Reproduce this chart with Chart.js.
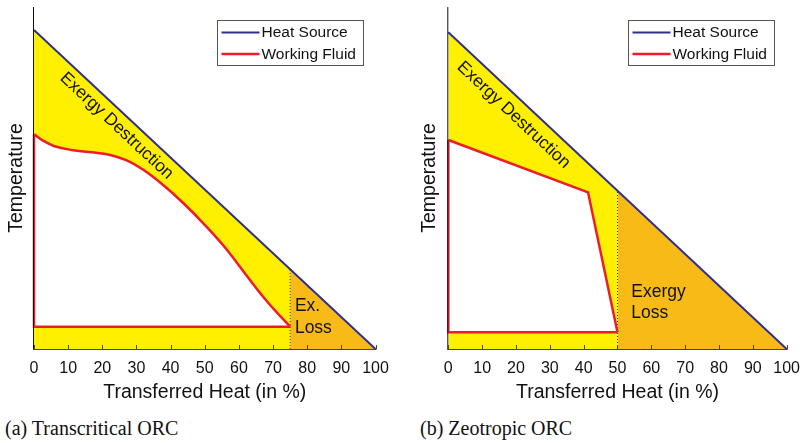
<!DOCTYPE html>
<html lang="en">
<head>
<meta charset="UTF-8">
<title>Heat Transfer Diagrams</title>
<script src="https://cdn.jsdelivr.net/npm/chart.js@4.4.0/dist/chart.umd.min.js"></script>
<style>
  body { margin: 0; background: #fff; width: 810px; height: 443px; position: relative; overflow: hidden; }
  .panel { position: absolute; top: 0; width: 405px; height: 410px; }
  .caption { position: absolute; top: 418px; font-family: 'Liberation Serif', 'Times New Roman', serif; font-size: 20px; line-height: 20px; color: #111; white-space: nowrap; }
</style>
</head>
<body>
<div class="panel" style="left:0"><canvas id="chartA"></canvas></div>
<div class="panel" style="left:405px"><canvas id="chartB"></canvas></div>
<div class="caption" style="left:5px">(a) Transcritical ORC</div>
<div class="caption" style="left:420px">(b) Zeotropic ORC</div>
<script>
// (a) transcritical: heat source line, split at the pinch where the fluid line ends
const heatAX = [0, 75, 100];
const heatAY = [93.3, 23.3, 0];
// working fluid upper curve, from top of the vertical jump down to the condensing level
const fluidAX = [0, 2.5, 6, 11, 17, 22, 27, 32, 38, 44, 50, 56, 62, 68, 75];
const fluidAY = [62.8, 61.0, 59.3, 58.2, 57.5, 56.8, 55.2, 52.4, 47.8, 42.4, 36.3, 29.6, 21.8, 14.2, 6.5];

// (b) zeotropic
const heatBX = [0, 50, 100];
const heatBY = [92.6, 46.3, 0];
const fluidBX = [0, 41.3, 50];
const fluidBY = [61.1, 45.8, 4.9];

const xTicks = [0, 10, 20, 30, 40, 50, 60, 70, 80, 90, 100];

const BLUE = '#2E3192';
const RED = '#EE1C25';
const YELLOW = '#FFF000';
const ORANGE = '#F8BA16';
const FONT = "'Liberation Sans', Arial, sans-serif";

const decor = {
  id: 'decor',
  afterDatasetsDraw(chart, args, o) {
    const { ctx, chartArea: a, scales: { x, y } } = chart;
    const heat = chart.data.datasets[0].data;
    ctx.save();

    // axes + inward tick marks
    ctx.strokeStyle = '#111';
    ctx.lineWidth = 1;
    ctx.beginPath();
    ctx.moveTo(a.left - 0.5, a.top);
    ctx.lineTo(a.left - 0.5, a.bottom + 0.5);
    ctx.stroke();
    ctx.strokeStyle = '#444';
    ctx.beginPath();
    ctx.moveTo(a.left - 1, a.bottom + 0.5);
    ctx.lineTo(a.right + 1, a.bottom + 0.5);
    x.ticks.forEach(t => {
      const px = Math.round(x.getPixelForValue(t.value)) + 0.5;
      ctx.moveTo(px, a.bottom);
      ctx.lineTo(px, a.bottom - 4);
    });
    ctx.stroke();

    // region labels
    ctx.fillStyle = '#111';
    ctx.font = '17.5px ' + FONT;
    const p0x = x.getPixelForValue(heat[0].x), p0y = y.getPixelForValue(heat[0].y);
    const p1x = x.getPixelForValue(heat[heat.length - 1].x), p1y = y.getPixelForValue(heat[heat.length - 1].y);
    const ang = Math.atan2(p1y - p0y, p1x - p0x);
    ctx.save();
    ctx.translate(x.getPixelForValue(o.destruction[0]), y.getPixelForValue(o.destruction[1]));
    ctx.rotate(ang);
    ctx.textAlign = 'center';
    ctx.textBaseline = 'middle';
    ctx.fillText('Exergy Destruction', 0, 0);
    ctx.restore();

    ctx.textAlign = 'left';
    ctx.textBaseline = 'middle';
    o.loss.forEach(l => ctx.fillText(l.text, x.getPixelForValue(l.x), y.getPixelForValue(l.y)));

    // legend box
    ctx.font = '15.5px ' + FONT;
    const bw = 146, bh = 45;
    const bx = Math.round(a.right - 13 - bw) + 0.5, by = 20.5;
    ctx.fillStyle = '#fff';
    ctx.fillRect(bx, by, bw, bh);
    ctx.strokeStyle = '#555';
    ctx.lineWidth = 1;
    ctx.strokeRect(bx, by, bw, bh);
    [['Heat Source', BLUE, 2, 12], ['Working Fluid', RED, 2.5, 33.5]].forEach(([txt, col, w, dy]) => {
      ctx.strokeStyle = col;
      ctx.lineWidth = w;
      ctx.beginPath();
      ctx.moveTo(bx + 4, by + dy);
      ctx.lineTo(bx + 42, by + dy);
      ctx.stroke();
      ctx.fillStyle = '#111';
      ctx.fillText(txt, bx + 44, by + dy + 0.5);
    });
    ctx.restore();
  }
};

function makeChart(id, hx, hy, fx, fy, opts) {
  const heat = hx.map((v, i) => ({ x: v, y: hy[i] }));
  const curve = fx.map((v, i) => ({ x: v, y: fy[i] }));
  const base = curve[curve.length - 1].y;
  const corner = [curve[0], { x: curve[0].x, y: base }, curve[curve.length - 1]];
  const pinch = heat[1];

  return new Chart(document.getElementById(id), {
    type: 'line',
    data: {
      datasets: [
        { label: 'Heat Source', data: heat, borderColor: BLUE, borderWidth: 2, fill: false },
        { label: 'Working Fluid', data: corner, borderColor: RED, borderWidth: 2.5, fill: false },
        { label: 'fluid', data: curve, borderColor: RED, borderWidth: 2.5, backgroundColor: '#fff',
          fill: { value: base }, tension: opts.tension },
        { label: 'pinch', data: [{ x: pinch.x, y: 0 }, pinch], borderColor: '#333', borderWidth: 1, borderDash: [1, 2], fill: false },
        { label: 'loss', data: heat.slice(1), borderWidth: 0, backgroundColor: ORANGE, fill: 'origin' },
        { label: 'destruction', data: heat.slice(0, 2), borderWidth: 0, backgroundColor: YELLOW, fill: 'origin' }
      ]
    },
    options: {
      responsive: true,
      maintainAspectRatio: false,
      animation: false,
      layout: { padding: { top: 7, right: opts.padRight, bottom: 0, left: 0 } },
      elements: { point: { radius: 0 }, line: { tension: 0 } },
      datasets: { line: { clip: false } },
      plugins: {
        legend: { display: false },
        tooltip: { enabled: false },
        decor: { destruction: opts.destruction, loss: opts.loss }
      },
      scales: {
        x: {
          type: 'linear', min: 0, max: 100,
          afterBuildTicks: s => { s.ticks = xTicks.map(v => ({ value: v })); },
          afterFit: s => { s.height = 61; },
          grid: { display: false, drawTicks: false },
          border: { display: false },
          ticks: { color: '#111', font: { family: FONT, size: 16 }, padding: 10, maxRotation: 0 },
          title: { display: true, text: 'Transferred Heat (in %)', color: '#111',
                   font: { family: FONT, size: 19.5 }, padding: { top: 0, bottom: 5.3 } }
        },
        y: {
          min: 0, max: 100,
          afterFit: s => { s.width = opts.axisWidth; },
          grid: { display: false, drawTicks: false },
          border: { display: false },
          ticks: { display: false },
          title: { display: true, text: 'Temperature', color: '#111',
                   font: { family: FONT, size: 19.5 }, padding: { top: opts.titlePad, bottom: 0 } }
        }
      }
    },
    plugins: [decor]
  });
}

makeChart('chartA', heatAX, heatAY, fluidAX, fluidAY, {
  tension: 0.4, padRight: 29.5, axisWidth: 34, titlePad: 5.3,
  destruction: [24.2, 65.2],
  loss: [{ text: 'Ex.', x: 76.4, y: 12.6 }, { text: 'Loss', x: 76.4, y: 6.1 }]
});
makeChart('chartB', heatBX, heatBY, fluidBX, fluidBY, {
  tension: 0, padRight: 20, axisWidth: 43.3, titlePad: 13.3,
  destruction: [19.3, 68.4],
  loss: [{ text: 'Exergy', x: 54.1, y: 16.7 }, { text: 'Loss', x: 54.1, y: 10.6 }]
});
</script>
</body>
</html>
